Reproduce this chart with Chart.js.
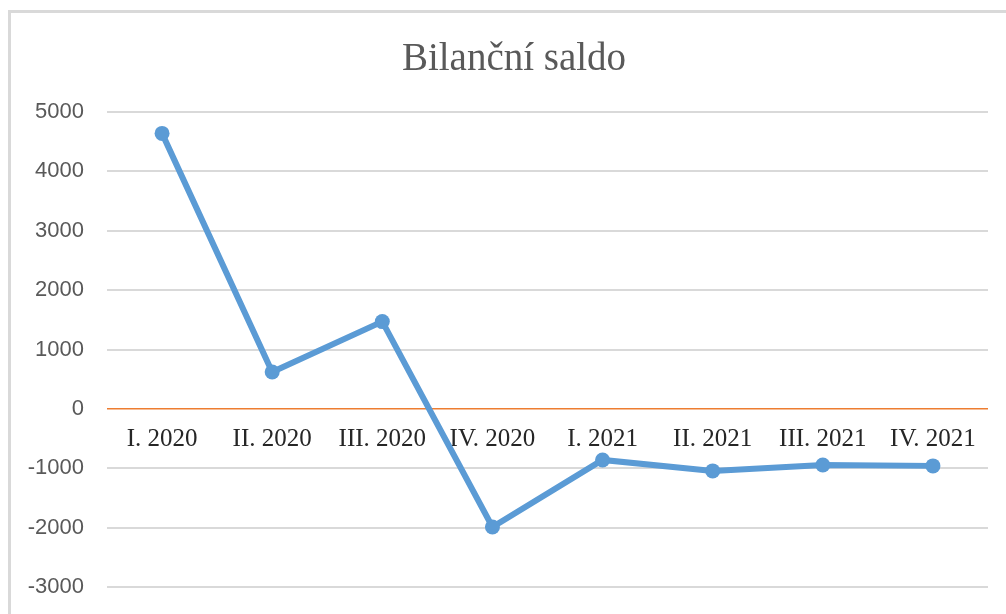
<!DOCTYPE html>
<html>
<head>
<meta charset="utf-8">
<script src="https://cdn.jsdelivr.net/npm/chart.js@4/dist/chart.umd.min.js"></script>
<style>
  html, body { margin: 0; padding: 0; background: #fff; overflow: hidden; width: 1006px; height: 614px; }
  #frame { position: absolute; left: 8px; top: 10px; width: 1006px; height: 640px; border: 3px solid #d9d9d9; background: #fff; }
  #wrap { position: absolute; left: 0; top: 0; width: 1006px; height: 640px; }
</style>
</head>
<body>
<div id="frame"><div id="wrap"><canvas id="c"></canvas></div></div>
<script>
const categories = ["I. 2020", "II. 2020", "III. 2020", "IV. 2020", "I. 2021", "II. 2021", "III. 2021", "IV. 2021"];
const saldo = [4640, 620, 1470, -1990, -860, -1045, -945, -960];
const yTicks = { min: -3000, max: 5000, step: 1000 };
const titleText = "Bilanční saldo";

// Center the title over the whole frame (not just the padded width)
const titleCenterPlugin = {
  id: 'titleCenter',
  afterLayout(chart) {
    if (chart.titleBlock) {
      chart.titleBlock.left = 0;
      chart.titleBlock.right = chart.width;
    }
  }
};

new Chart(document.getElementById('c'), {
  type: 'line',
  plugins: [titleCenterPlugin],
  data: {
    labels: categories,
    datasets: [{
      label: titleText,
      data: saldo,
      borderColor: '#5B9BD5',
      backgroundColor: '#5B9BD5',
      borderWidth: 6,
      pointRadius: 7.5,
      pointBackgroundColor: '#5B9BD5',
      pointBorderWidth: 0,
      tension: 0,
      fill: false
    }]
  },
  options: {
    responsive: true,
    maintainAspectRatio: false,
    animation: false,
    layout: { padding: { left: 0, right: 29, top: 0, bottom: 66 } },
    plugins: {
      legend: { display: false },
      tooltip: { enabled: false },
      title: {
        display: true,
        text: titleText,
        color: '#595959',
        font: { family: "'Liberation Serif', 'Times New Roman', serif", size: 39, weight: 'normal' },
        padding: { top: 23, bottom: 29.2 }
      }
    },
    scales: {
      x: {
        type: 'category',
        position: { y: 0 },
        offset: true,
        grid: { display: false, drawTicks: false },
        border: { display: false },
        ticks: {
          color: '#262626',
          padding: 16,
          maxRotation: 0,
          autoSkip: false,
          font: { family: "'Liberation Serif', 'Times New Roman', serif", size: 25 }
        }
      },
      y: {
        min: yTicks.min,
        max: yTicks.max,
        afterFit: (s) => { s.width = 96; },
        border: { display: false },
        grid: {
          drawTicks: false,
          color: (ctx) => (ctx.tick && ctx.tick.value === 0) ? '#ED7D31' : '#d9d9d9',
          lineWidth: (ctx) => (ctx.tick && ctx.tick.value === 0) ? 1.5 : 2
        },
        ticks: {
          stepSize: yTicks.step,
          color: '#595959',
          padding: 23,
          callback: (v) => String(v),
          font: { family: "'Liberation Sans', Arial, sans-serif", size: 22 }
        }
      }
    }
  }
});
</script>
</body>
</html>
